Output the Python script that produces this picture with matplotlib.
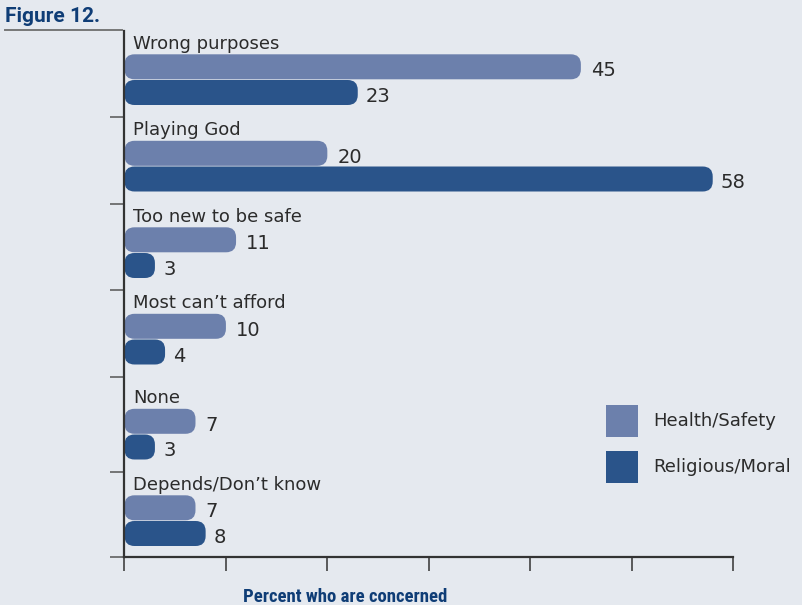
import matplotlib
matplotlib.use("Agg")
import matplotlib.pyplot as plt
from matplotlib.lines import Line2D
from matplotlib.patches import FancyBboxPatch, Rectangle

categories = [
    "Wrong purposes",
    "Playing God",
    "Too new to be safe",
    "Most can\u2019t afford",
    "None",
    "Depends/Don\u2019t know",
]
health_safety = [45, 20, 11, 10, 7, 7]
religious_moral = [23, 58, 3, 4, 3, 8]
series_names = ["Health/Safety", "Religious/Moral"]
x_title = "Percent who are concerned"
fig_title = "Figure 12."

BG = "#e5e9ef"
LIGHT = "#6c80ac"
DARK = "#2a548a"
NAVY = "#0f3d76"
INK = "#2b2b2b"
AXIS = "#333333"
CONDENSED = ["Roboto Condensed", "Roboto", "DejaVu Sans"]
HEADING = ["Roboto", "DejaVu Sans"]

W, H = 802, 605
# plot box in pixels, rows counted from the top of the figure
X0, X1, Y0, Y1 = 124.5, 733.0, 30.8, 557.0
XMAX = 60
PX_PER_UNIT = (X1 - X0) / XMAX

ROW_STEP = 86.5
FIRST_BAR_TOP = 54.3
BAR_H = 25.0
BAR_GAP = 0.7
CORNER_PX = 10.0


def fx(px):
    return px / W


def fy(py):
    return 1 - py / H


def rounded_bar(ax, top, value, color):
    r = CORNER_PX / PX_PER_UNIT
    patch = FancyBboxPatch(
        (0, top), value, BAR_H,
        boxstyle=f"round,pad=0,rounding_size={r}",
        mutation_aspect=PX_PER_UNIT,
        facecolor=color, edgecolor="none", zorder=2,
    )
    ax.add_patch(patch)


fig = plt.figure(figsize=(W / 100, H / 100), dpi=100, facecolor=BG)
ax = fig.add_axes([fx(X0), fy(Y1), fx(X1 - X0), (Y1 - Y0) / H])
ax.set_facecolor(BG)
ax.set_xlim(0, XMAX)
ax.set_ylim(Y1, Y0)

group_ticks = []
for i, (cat, hs, rm) in enumerate(zip(categories, health_safety, religious_moral)):
    top = FIRST_BAR_TOP + i * ROW_STEP + (8.5 if i >= 4 else 0)
    dark_top = top + BAR_H + BAR_GAP
    ax.text(0.85, top - 5.5, cat, fontsize=13, color=INK, va="baseline", ha="left")
    rounded_bar(ax, top, hs, LIGHT)
    rounded_bar(ax, dark_top, rm, DARK)
    ax.text(hs + 1.0, top + BAR_H - 3, str(hs), fontsize=14, color=INK,
            va="baseline", ha="left")
    ax.text(rm + 0.8, dark_top + BAR_H - 3, str(rm), fontsize=14, color=INK,
            va="baseline", ha="left")
    if i < len(categories) - 1:
        group_ticks.append(dark_top + BAR_H + 12)

ax.set_yticks(group_ticks + [Y1])
ax.set_xticks(range(0, XMAX + 1, 10))
ax.tick_params(axis="y", length=10, width=1.1, color="#555555", labelleft=False)
ax.tick_params(axis="x", length=10, width=1.1, color=AXIS, labelbottom=False)
for side in ("top", "right"):
    ax.spines[side].set_visible(False)
for side in ("left", "bottom"):
    ax.spines[side].set_color(AXIS)
    ax.spines[side].set_linewidth(1.6)

# legend swatches
for j, (name, color) in enumerate(zip(series_names, [LIGHT, DARK])):
    sy = 405 + j * 46
    fig.patches.append(Rectangle((fx(606), fy(sy + 32)), fx(32), 32 / H,
                                 transform=fig.transFigure, facecolor=color,
                                 edgecolor="none"))
    fig.text(fx(653), fy(sy + 16), name, fontsize=13, color=INK,
             va="center", ha="left")

fig.text(fx(5), fy(21.7), fig_title, fontsize=15, fontweight="bold",
         color=NAVY, va="baseline", ha="left", family=HEADING)
fig.lines.append(Line2D([fx(5), fx(122)], [fy(30), fy(30)], transform=fig.transFigure,
                        color="#777777", lw=1.4))
fig.text(fx(345), fy(602), x_title, fontsize=13.5, fontweight="bold",
         color=NAVY, va="baseline", ha="center", family=CONDENSED,
         fontstretch="condensed")

fig.savefig("out.png", dpi=100, facecolor=BG)
